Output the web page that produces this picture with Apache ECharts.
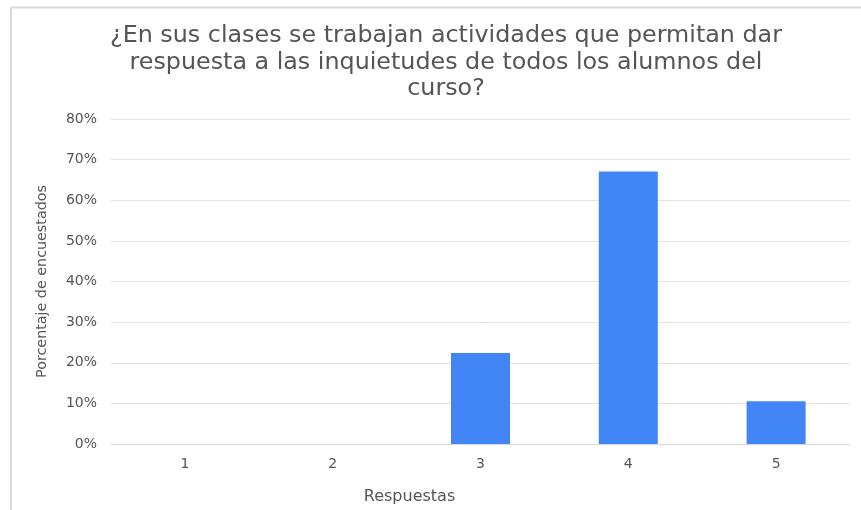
<!DOCTYPE html>
<html>
<head>
<meta charset="utf-8">
<script src="https://cdn.jsdelivr.net/npm/echarts@6/dist/echarts.min.js"></script>
<style>
html,body{margin:0;padding:0;background:#fff;}
#chart{width:861px;height:510px;}
</style>
</head>
<body>
<div id="chart"></div>
<script>
const titleText = "¿En sus clases se trabajan actividades que permitan dar\nrespuesta a las inquietudes de todos los alumnos del\ncurso?";
const categories = ["1", "2", "3", "4", "5"];
const values = [0, 0, 22.4, 67.1, 10.5];
const yTicks = [0, 10, 20, 30, 40, 50, 60, 70, 80];
const xName = "Respuestas";
const yName = "Porcentaje de encuestados";

const FONT = 'DejaVu Sans, sans-serif';
const chart = echarts.init(document.getElementById('chart'), null, {renderer: 'canvas'});
chart.setOption({
  backgroundColor: '#ffffff',
  animation: false,
  title: {
    text: titleText,
    left: 441,
    textAlign: 'center',
    top: 18,
    textStyle: {
      fontFamily: FONT,
      fontSize: 23.8,
      fontWeight: 'normal',
      color: '#555555',
      lineHeight: 26.5
    }
  },
  graphic: [
    {type: 'line', shape: {x1: 11, y1: 7.5, x2: 861, y2: 7.5}, style: {stroke: '#d9d9d9', lineWidth: 2}},
    {type: 'line', shape: {x1: 11, y1: 7, x2: 11, y2: 510}, style: {stroke: '#d9d9d9', lineWidth: 2}}
  ],
  grid: {left: 111, right: 11, top: 119, bottom: 66, containLabel: false},
  xAxis: {
    type: 'category',
    data: categories,
    name: xName,
    nameLocation: 'middle',
    nameGap: 45,
    nameTextStyle: {fontFamily: FONT, fontSize: 16, color: '#555555', padding: [0, 142, 0, 0]},
    axisLine: {show: true, lineStyle: {color: '#d9d9d9'}},
    axisTick: {show: false},
    axisLabel: {fontFamily: FONT, fontSize: 14, color: '#555555', margin: 13}
  },
  yAxis: {
    type: 'value',
    min: 0,
    max: 80,
    interval: 10,
    name: yName,
    nameLocation: 'middle',
    nameGap: 62,
    nameTextStyle: {fontFamily: FONT, fontSize: 14.3, color: '#555555'},
    axisLine: {show: false},
    axisTick: {show: false},
    splitLine: {lineStyle: {color: '#e3e3e3'}},
    axisLabel: {
      fontFamily: FONT, fontSize: 14, color: '#555555', margin: 14,
      formatter: function (v) { return yTicks.indexOf(v) >= 0 ? v + '%' : ''; }
    }
  },
  series: [{
    type: 'bar',
    data: values,
    barWidth: 59,
    itemStyle: {color: '#4285f4'}
  }]
});
</script>
</body>
</html>
